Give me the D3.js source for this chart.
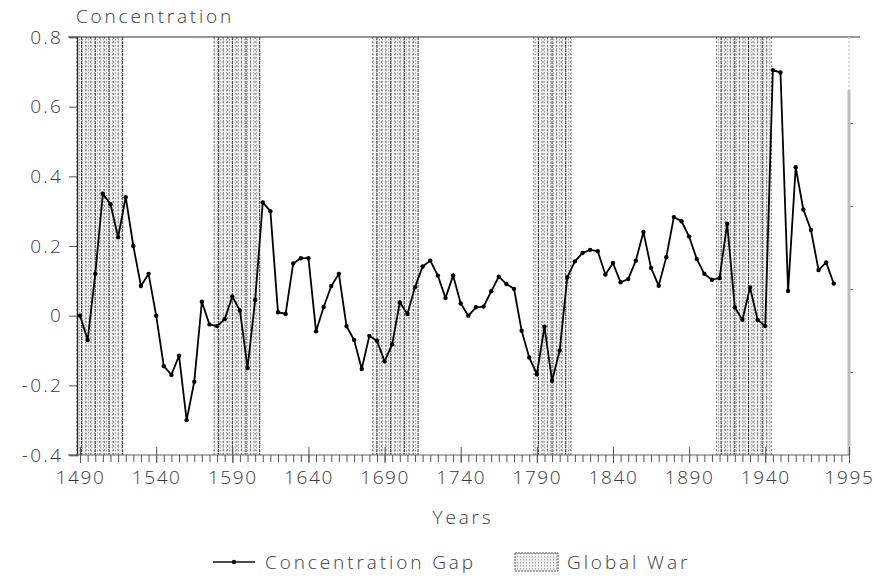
<!DOCTYPE html>
<html>
<head>
<meta charset="utf-8">
<script src="https://cdn.jsdelivr.net/npm/d3@7"></script>
<style>
body { margin: 0; background: #fff; }
text { font-family: "Open Sans", "DejaVu Sans", sans-serif; font-weight: 300; fill: #3a3a3a; }
</style>
</head>
<body>
<div id="chart"></div>
<script>
// concentration gap, one value every 5 years
var years = [1490, 1495, 1500, 1505, 1510, 1515, 1520, 1525, 1530, 1535,
             1540, 1545, 1550, 1555, 1560, 1565, 1570, 1575, 1580, 1585,
             1590, 1595, 1600, 1605, 1610, 1615, 1620, 1625, 1630, 1635,
             1640, 1645, 1650, 1655, 1660, 1665, 1670, 1675, 1680, 1685,
             1690, 1695, 1700, 1705, 1710, 1715, 1720, 1725, 1730, 1735,
             1740, 1745, 1750, 1755, 1760, 1765, 1770, 1775, 1780, 1785,
             1790, 1795, 1800, 1805, 1810, 1815, 1820, 1825, 1830, 1835,
             1840, 1845, 1850, 1855, 1860, 1865, 1870, 1875, 1880, 1885,
             1890, 1895, 1900, 1905, 1910, 1915, 1920, 1925, 1930, 1935,
             1940, 1945, 1950, 1955, 1960, 1965, 1970, 1975, 1980, 1985];
var gap = [0.00, -0.07, 0.12, 0.35, 0.32, 0.225, 0.34, 0.20, 0.085, 0.12,
           0.00, -0.145, -0.17, -0.115, -0.30, -0.19, 0.04, -0.025, -0.03, -0.01,
           0.055, 0.015, -0.15, 0.045, 0.325, 0.30, 0.01, 0.005, 0.15, 0.165,
           0.165, -0.045, 0.025, 0.085, 0.12, -0.03, -0.07, -0.153, -0.058, -0.072,
           -0.131, -0.082, 0.038, 0.005, 0.082, 0.141, 0.158, 0.115, 0.051, 0.115,
           0.035, 0.0, 0.024, 0.026, 0.07, 0.112, 0.091, 0.077, -0.043, -0.12,
           -0.168, -0.032, -0.187, -0.10, 0.11, 0.156, 0.18, 0.189, 0.185, 0.118,
           0.151, 0.096, 0.105, 0.158, 0.24, 0.137, 0.086, 0.168, 0.283, 0.271,
           0.227, 0.163, 0.12, 0.103, 0.108, 0.264, 0.024, -0.012, 0.081, -0.012,
           -0.03, 0.705, 0.698, 0.071, 0.426, 0.305, 0.246, 0.131, 0.153, 0.092];

// global war periods
var warStart = [1488, 1578, 1682, 1788, 1908];
var warEnd   = [1518, 1608, 1712, 1813, 1944];

var yTicks = [-0.4, -0.2, 0, 0.2, 0.4, 0.6, 0.8];
var xTicks = [1490, 1540, 1590, 1640, 1690, 1740, 1790, 1840, 1890, 1940, 1995];
var rightTicks = [1, 2, 3, 4];

var width = 873, height = 579;
var svg = d3.select("#chart").append("svg")
    .attr("width", width)
    .attr("height", height);

var x = d3.scaleLinear().domain([1488, 1995]).range([77, 849]);
var y = d3.scaleLinear().domain([-0.4, 0.8]).range([455, 37]);
var yRight = d3.scaleLinear().domain([0, 5]).range([455, 40]);

// stipple pattern for the war bands
var defs = svg.append("defs");
var pat = defs.append("pattern")
    .attr("id", "stipple")
    .attr("patternUnits", "userSpaceOnUse")
    .attr("width", 3).attr("height", 3);
pat.append("rect").attr("width", 3).attr("height", 3).attr("fill", "#f1f1f1");
pat.append("rect").attr("x", 1).attr("y", 0).attr("width", 1).attr("height", 1.5).attr("fill", "#a8a8a8");

var wars = warStart.map(function(s, i) { return {start: s, end: warEnd[i]}; });

var bands = svg.append("g");
bands.selectAll("rect")
    .data(wars)
    .enter()
    .append("rect")
    .attr("x", function(d) { return x(d.start); })
    .attr("y", y(0.8))
    .attr("width", function(d) { return x(d.end) - x(d.start); })
    .attr("height", y(-0.4) - y(0.8))
    .attr("fill", "url(#stipple)");

// dark dotted verticals inside each band
wars.forEach(function(w) {
    var lines = d3.range(w.start, w.end + 0.1, 3);
    bands.selectAll(null)
        .data(lines)
        .enter()
        .append("line")
        .attr("x1", function(d) { return x(d); })
        .attr("x2", function(d) { return x(d); })
        .attr("y1", y(0.8))
        .attr("y2", y(-0.4))
        .attr("stroke", function(d, i) { return i % 3 == 1 ? "#222" : "#666"; })
        .attr("stroke-width", 0.9)
        .attr("stroke-dasharray", function(d, i) { return i % 3 == 1 ? "3,1" : "2,2"; });
});

// top frame line
svg.append("line")
    .attr("x1", 68).attr("x2", 860)
    .attr("y1", y(0.8)).attr("y2", y(0.8))
    .attr("stroke", "#333").attr("stroke-width", 1.2);

// left axis
var yAxis = svg.append("g")
    .attr("transform", "translate(" + x(1488) + ",0)")
    .call(d3.axisLeft(y).tickValues(yTicks).tickSize(8).tickPadding(6)
        .tickFormat(function(d) { return String(d); }));
yAxis.select(".domain").attr("stroke", "#222").attr("stroke-width", 1.3);
yAxis.selectAll(".tick line").attr("stroke", "#555");
yAxis.selectAll("text").style("font-size", "19px").style("letter-spacing", "2.2px").attr("fill", null);

// right axis (unlabelled)
var rAxis = svg.append("g")
    .attr("transform", "translate(" + x(1995) + ",0)")
    .call(d3.axisRight(yRight).tickValues(rightTicks).tickSize(4).tickFormat(""));
rAxis.select(".domain").remove();
rAxis.append("line")
    .attr("x1", 0).attr("x2", 0)
    .attr("y1", yRight(4.4)).attr("y2", yRight(0))
    .attr("stroke", "#bdbdbd").attr("stroke-width", 3);
rAxis.append("line")
    .attr("x1", 0).attr("x2", 0)
    .attr("y1", y(0.8)).attr("y2", yRight(4.4))
    .attr("stroke", "#ccc").attr("stroke-width", 1.5).attr("stroke-dasharray", "2,2");
rAxis.selectAll(".tick line").attr("stroke", "#666");

// bottom axis: minor ticks every 5 years, major at labels
var minor = d3.range(1490, 1995, 5);
var xMinor = svg.append("g")
    .attr("transform", "translate(0," + y(-0.4) + ")")
    .call(d3.axisBottom(x).tickValues(minor).tickSize(7).tickFormat(""));
xMinor.select(".domain").attr("stroke", "#666").attr("stroke-width", 1.2).attr("d", "M68,0H849");
xMinor.selectAll(".tick line").attr("stroke", "#555");

var xAxis = svg.append("g")
    .attr("transform", "translate(0," + y(-0.4) + ")")
    .call(d3.axisBottom(x).tickValues(xTicks).tickSize(8).tickPadding(8)
        .tickFormat(function(d) { return String(d); }));
xAxis.select(".domain").remove();
xAxis.selectAll(".tick line").attr("y1", -8).attr("stroke", "#555");
xAxis.selectAll("text").style("font-size", "19px").style("letter-spacing", "1.6px").attr("fill", null);

// the series
var line = d3.line()
    .x(function(d, i) { return x(years[i]); })
    .y(function(d) { return y(d); });

svg.append("path")
    .datum(gap)
    .attr("d", line)
    .attr("fill", "none")
    .attr("stroke", "#000")
    .attr("stroke-width", 1.8);

svg.selectAll("circle.pt")
    .data(gap)
    .enter()
    .append("circle")
    .attr("class", "pt")
    .attr("cx", function(d, i) { return x(years[i]); })
    .attr("cy", function(d) { return y(d); })
    .attr("r", 2.2)
    .attr("fill", "#000");

// titles
svg.append("text")
    .attr("x", 76).attr("y", 23)
    .style("font-size", "19px").style("letter-spacing", "2.8px")
    .text("Concentration");

svg.append("text")
    .attr("x", 463).attr("y", 524)
    .style("text-anchor", "middle")
    .style("font-size", "19px").style("letter-spacing", "2.8px")
    .text("Years");

// legend
var leg = svg.append("g").attr("transform", "translate(0,562)");
leg.append("line")
    .attr("x1", 213).attr("x2", 255)
    .attr("stroke", "#111").attr("stroke-width", 1.6);
leg.append("circle").attr("cx", 234).attr("r", 2.2).attr("fill", "#111");
leg.append("text")
    .attr("x", 265).attr("y", 7)
    .style("font-size", "19px").style("letter-spacing", "2.9px")
    .text("Concentration Gap");
leg.append("rect")
    .attr("x", 515).attr("y", -9)
    .attr("width", 43).attr("height", 18)
    .attr("fill", "url(#stipple)")
    .attr("stroke", "#555").attr("stroke-width", 1)
    .attr("stroke-dasharray", "2,1");
leg.append("text")
    .attr("x", 567).attr("y", 7)
    .style("font-size", "19px").style("letter-spacing", "2.9px")
    .text("Global War");
</script>
</body>
</html>
